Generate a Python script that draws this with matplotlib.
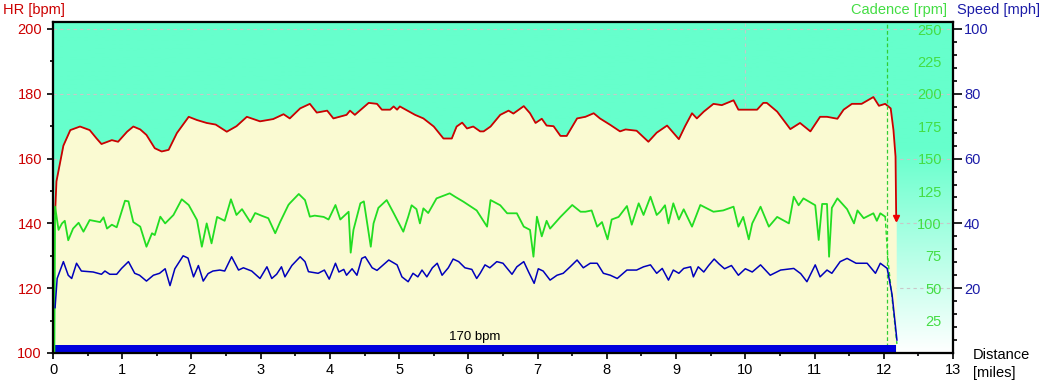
import matplotlib
matplotlib.use('Agg')
import matplotlib.pyplot as plt
from matplotlib.colors import LinearSegmentedColormap
import numpy as np

plt.rcParams['font.family'] = ['Liberation Sans', 'DejaVu Sans']
plt.rcParams['font.size'] = 10.5

# heart rate (bpm) vs distance (miles)
HR_DIST = [0.03, 0.05, 0.15, 0.25, 0.39, 0.53, 0.63, 0.70, 0.85, 0.94, 1.07, 1.16, 1.26, 1.35,
           1.47, 1.57, 1.67, 1.79, 1.96, 2.08, 2.22, 2.35, 2.51, 2.65, 2.80, 2.99, 3.18, 3.33,
           3.42, 3.57, 3.71, 3.81, 3.96, 4.05, 4.24, 4.29, 4.36, 4.56, 4.68, 4.75, 4.87, 4.92,
           4.97, 5.01, 5.23, 5.35, 5.50, 5.64, 5.76, 5.83, 5.91, 5.98, 6.07, 6.17, 6.22, 6.32,
           6.46, 6.58, 6.65, 6.80, 6.89, 6.97, 7.06, 7.13, 7.23, 7.33, 7.42, 7.57, 7.69, 7.81,
           7.90, 8.05, 8.19, 8.27, 8.43, 8.60, 8.72, 8.87, 9.04, 9.13, 9.23, 9.30, 9.40, 9.54,
           9.66, 9.83, 9.90, 10.17, 10.26, 10.31, 10.46, 10.65, 10.79, 10.94, 11.08, 11.18,
           11.33, 11.42, 11.54, 11.68, 11.85, 11.93, 12.02, 12.10, 12.14, 12.17, 12.18]
HR = [143, 153, 164, 168.8, 169.9, 168.8, 166.2, 164.5, 165.7, 165.2, 168.3, 169.9, 169, 167.3,
      163.2, 162.2, 162.7, 167.9, 172.9, 171.9, 171, 170.5, 168.3, 170.0, 172.9, 171.5, 172.2, 173.7,
      172.4, 175.5, 176.9, 174.2, 174.8, 172.4, 173.5, 174.8, 173.5, 177.2, 176.9, 175.1, 175.1, 176.1,
      175.1, 176.1, 173.5, 172.4, 169.9, 166.2, 166.2, 169.9, 171.1, 169.3, 169.9, 168.4, 168.4, 169.9,
      173.5, 174.8, 173.9, 176.2, 174.0, 171, 172.3, 170.2, 170, 167, 167, 172.4, 172.9, 174,
      172.4, 170.4, 168.4, 169, 168.6, 165.2, 168, 170.2, 166, 170, 174, 172.4, 174.5, 176.9,
      176.5, 178, 175.1, 175.1, 177.2, 177.2, 174.5, 169.1, 171, 168.4, 172.9, 172.9,
      172.3, 175.1, 176.9, 176.9, 179, 176.3, 176.9, 175.5, 168.8, 160.6, 141]

# cadence (rpm)
CAD_DIST = [0.02, 0.03, 0.08, 0.13, 0.17, 0.22, 0.29, 0.37, 0.44, 0.53, 0.68, 0.73, 0.78, 0.85,
            0.92, 1.04, 1.09, 1.16, 1.26, 1.35, 1.43, 1.47, 1.55, 1.62, 1.74, 1.86, 1.96, 2.08,
            2.15, 2.22, 2.29, 2.37, 2.48, 2.57, 2.65, 2.73, 2.85, 2.92, 3.01, 3.11, 3.21, 3.28,
            3.40, 3.42, 3.55, 3.64, 3.71, 3.78, 3.91, 3.98, 4.08, 4.15, 4.27, 4.30, 4.34, 4.44,
            4.49, 4.59, 4.63, 4.70, 4.82, 4.92, 5.06, 5.13, 5.18, 5.25, 5.30, 5.35, 5.42, 5.54,
            5.73, 5.81, 5.93, 6.12, 6.27, 6.32, 6.46, 6.56, 6.70, 6.80, 6.89, 6.94, 6.99, 7.06,
            7.13, 7.18, 7.33, 7.50, 7.62, 7.69, 7.78, 7.86, 7.93, 8.01, 8.07, 8.17, 8.29, 8.36,
            8.46, 8.53, 8.63, 8.72, 8.77, 8.84, 8.89, 8.96, 9.04, 9.11, 9.23, 9.35, 9.54, 9.68,
            9.83, 9.90, 9.97, 10.05, 10.10, 10.22, 10.34, 10.46, 10.63, 10.70, 10.77, 10.84,
            11.01, 11.06, 11.11, 11.18, 11.21, 11.25, 11.33, 11.47, 11.57, 11.62, 11.71, 11.85,
            11.90, 11.95, 12.02]
CADENCE = [0, 113, 95, 100, 102, 87, 96, 100.5, 93.6, 102.6, 101, 104.7, 96, 99,
           97, 117.5, 117, 101, 97.5, 82, 92.4, 91, 105.2, 100, 106.5, 118.6, 114.2, 102.6,
           82, 100, 84.6, 105, 102, 118.6, 106.5, 111, 101, 108, 106, 104, 92.4, 101,
           114.2, 115.5, 122.7, 118, 105.2, 106, 105, 103, 114.2, 103, 109, 77.4, 95, 115.5,
           117, 82, 100, 112, 118, 108, 93.6, 105, 114, 111, 100, 111.6, 108, 119.3,
           123.2, 120.5, 116.7, 110, 97.5, 118, 114, 107.8, 107.8, 97.5, 95, 74.3, 105.2, 90,
           102, 96, 105, 114.2, 109, 109, 110, 97.5, 101, 87.7, 103, 105, 113.4, 99,
           115.5, 106.5, 120.6, 106.5, 109, 114, 100, 115.5, 103, 110.9, 97.5, 114.2, 109, 110,
           112.9, 97.5, 105, 87.7, 100, 112.9, 97.5, 105, 100, 120.6, 114, 119.3,
           114, 87.2, 115, 115, 74.3, 112, 119.3, 111, 100, 110, 104, 107.8,
           102, 107.8, 105.2]
CAD_TAIL_DIST = [12.02, 12.06, 12.19]
CAD_TAIL = [105.2, 72, 7]

# speed (mph)
SPD_DIST = [0.03, 0.06, 0.15, 0.22, 0.27, 0.34, 0.41, 0.58, 0.70, 0.75, 0.82, 0.92, 0.99, 1.09,
            1.18, 1.25, 1.35, 1.45, 1.54, 1.62, 1.69, 1.76, 1.88, 1.95, 2.03, 2.10, 2.17, 2.24,
            2.31, 2.41, 2.48, 2.58, 2.68, 2.75, 2.87, 2.99, 3.09, 3.16, 3.23, 3.30, 3.35, 3.45,
            3.57, 3.64, 3.69, 3.83, 3.92, 3.99, 4.08, 4.13, 4.20, 4.24, 4.32, 4.39, 4.46, 4.51,
            4.61, 4.68, 4.75, 4.85, 4.97, 5.04, 5.13, 5.20, 5.27, 5.33, 5.40, 5.48, 5.55, 5.62,
            5.71, 5.78, 5.86, 5.95, 6.05, 6.12, 6.17, 6.24, 6.31, 6.41, 6.50, 6.63, 6.70, 6.80,
            6.87, 6.95, 7.01, 7.08, 7.18, 7.28, 7.37, 7.47, 7.57, 7.66, 7.76, 7.86, 7.95, 8.05,
            8.15, 8.29, 8.43, 8.53, 8.63, 8.72, 8.80, 8.89, 8.96, 9.04, 9.11, 9.21, 9.25, 9.32,
            9.40, 9.47, 9.55, 9.62, 9.70, 9.80, 9.90, 10.00, 10.10, 10.22, 10.36, 10.51, 10.70,
            10.80, 10.89, 11.01, 11.08, 11.18, 11.25, 11.37, 11.47, 11.60, 11.76, 11.88, 11.95,
            12.05, 12.12, 12.19]
SPEED = [14, 23, 28.2, 24, 23, 27.7, 25.3, 25, 24.3, 25.3, 24.3, 24.3, 26.1, 28.2,
         24.6, 24, 22.2, 24, 24.6, 26, 20.8, 26, 30, 29.3, 23.5, 27, 22.2, 24.5,
         25.3, 25.6, 25.3, 29.7, 25.6, 26.3, 25.3, 23, 26.6, 23, 24.3, 26.6, 23.5, 27,
         29.7, 28.2, 25.1, 24.6, 25.6, 22.8, 27.7, 25, 25.8, 24, 26, 24, 29.2, 29.7,
         26.3, 25.5, 26.8, 28.7, 27.2, 23.5, 22, 24.6, 23.5, 25.6, 23.5, 26.3, 27.7, 24,
         26.3, 29, 28.2, 26.3, 25.8, 23, 24.6, 27.2, 26.3, 28.2, 27.7, 24.3, 26.6, 28.2,
         25, 21.5, 26, 25.3, 22.5, 24, 24.6, 26.6, 28.7, 26.3, 27.7, 27.7, 24.6, 24,
         23, 25.6, 25.6, 26.6, 27.2, 24.6, 26.1, 22.5, 25.6, 24.6, 26.1, 26.6, 23.5, 26.6,
         25, 27, 29, 27.5, 26, 27, 24, 26, 25, 27.2, 24, 25.6, 26.1,
         24.5, 22, 27.2, 23.5, 25.6, 24.6, 28.2, 29.2, 27.7, 27.7, 24.6, 27.7,
         26.1, 18, 4]

ZONE_LABEL = '170 bpm'
ZONE_END = 12.18
LAP_AT = 12.05

HR_COLOR = '#cc0000'
CAD_COLOR = '#22dd22'
SPD_COLOR = '#0000bb'
AQUA = '#66ffcc'
YELLOW = '#fafad2'

fig = plt.figure(figsize=(10.53, 3.88), dpi=100)
ax = fig.add_axes([53 / 1053, 1 - 353 / 388, 900 / 1053, 331 / 388])
HR_TOP = 100 + 331 / 3.24

# background: aquamarine fading to white towards the bottom
cmap = LinearSegmentedColormap.from_list('bg', [(0, '#ffffff'), (0.62, AQUA), (1, AQUA)])
grad = np.linspace(0, 1, 256).reshape(-1, 1)
ax.imshow(grad, cmap=cmap, origin='lower', extent=[0, 13, 100, HR_TOP], aspect='auto', zorder=0)

for y in range(120, 201, 20):
    ax.axhline(y, color='#c8c8c8', lw=0.8, ls=(0, (3, 3)), zorder=0.5)
ax.axvline(10, color='#c8c8c8', lw=0.8, ls=(0, (3, 3)), zorder=0.5)

ax.fill_between(HR_DIST, HR, 100, color=YELLOW, lw=0, zorder=1)
ax.plot(HR_DIST, HR, color=HR_COLOR, lw=1.3, zorder=2)
ax.plot(HR_DIST[-1], HR[-1] + 0.8, marker='v', color='#ee0000', ms=5, zorder=2)
ax.axvline(LAP_AT, color='#33cc33', lw=0.9, ls=(0, (3, 2)), zorder=3)

ax.barh(101.25, ZONE_END, left=0, height=2.5, color='#0000dd', zorder=3)
ax.text(ZONE_END / 2, 103.0, ZONE_LABEL, ha='center', va='bottom', fontsize=9.5, zorder=4)

ax.set_xlim(0, 13)
ax.set_ylim(100, HR_TOP)
ax.set_xticks(range(14))
ax.set_xticks(np.arange(0.5, 13, 1), minor=True)
ax.set_yticks(range(100, 201, 20))
ax.set_yticks(range(110, 200, 20), minor=True)
ax.tick_params(which='major', direction='out', length=4.5, width=1.2, pad=2.5)
ax.tick_params(which='minor', direction='out', length=2.4, width=1.2)
ax.tick_params(axis='y', labelcolor=HR_COLOR, pad=3.5)

# cadence axis: labels inside the plot
ax_cad = ax.twinx()
ax_cad.plot(CAD_DIST, CADENCE, color=CAD_COLOR, lw=1.3)
ax_cad.plot(CAD_TAIL_DIST, CAD_TAIL, color=CAD_COLOR, lw=1.0, ls=(0, (3, 2)))
ax_cad.set_ylim(0, (HR_TOP - 100) * 2.5)
ax_cad.set_yticks(range(25, 251, 25))
ax_cad.tick_params(axis='y', length=0, pad=-8, labelcolor='#44dd44')
for lbl in ax_cad.get_yticklabels():
    lbl.set_horizontalalignment('right')

# speed axis
ax_spd = ax.twinx()
ax_spd.plot(SPD_DIST, SPEED, color=SPD_COLOR, lw=1.1)
ax_spd.set_ylim(0, HR_TOP - 100)
ax_spd.set_yticks(range(20, 101, 20))
ax_spd.set_yticks([v for v in range(4, 101, 4) if v % 20], minor=True)
ax_spd.tick_params(axis='y', which='major', direction='out', length=6.5, width=1.2, pad=1.5,
                   labelcolor='#1c1ca8')
ax_spd.tick_params(axis='y', which='minor', direction='out', length=3, width=1.2)

for a in (ax, ax_cad, ax_spd):
    for s in a.spines.values():
        s.set_linewidth(1.5)
        s.set_color('black')

fig.text(3 / 1053, 0.975, 'HR [bpm]', color=HR_COLOR, va='center', ha='left')
fig.text(947 / 1053, 0.975, 'Cadence [rpm]', color='#44dd44', va='center', ha='right')
fig.text(957 / 1053, 0.975, 'Speed [mph]', color='#1c1ca8', va='center', ha='left')
fig.text(973 / 1053, 1 - 355 / 388, 'Distance', va='center', ha='left')
fig.text(973 / 1053, 1 - 373 / 388, '[miles]', va='center', ha='left')

fig.savefig('out.png', dpi=100)
